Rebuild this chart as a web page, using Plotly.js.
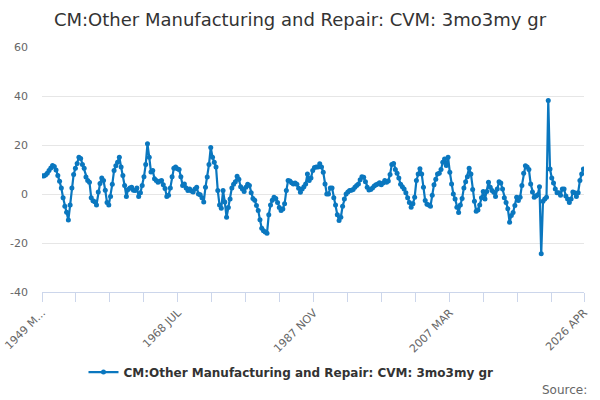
<!DOCTYPE html>
<html><head><meta charset="utf-8">
<script src="https://cdn.plot.ly/plotly-3.0.1.min.js"></script>
<style>html,body{margin:0;padding:0;background:#fff}#chart{width:600px;height:400px}</style>
</head><body><div id="chart"></div>
<script>
const chartTitle = 'CM:Other Manufacturing and Repair: CVM: 3mo3my gr';
const seriesName = 'CM:Other Manufacturing and Repair: CVM: 3mo3my gr';
const monthNames = ['JAN','FEB','MAR','APR','MAY','JUN','JUL','AUG','SEP','OCT','NOV','DEC'];
const firstYear = 1949;
const firstMonth = 2;      // MAR
const stepMonths = 3;      // one reading every three months
const lastOffset = 925;    // 2026 APR

// values, one every 3 months from 1949 MAR
const values = [
  7.5, 7.3, 7.8, 8.5, 9.6, 10.6, 11.6, 11.2, 9.8, 7.6,
  5.2, 2.5, -1.5, -5, -7.4, -10.6, -4.5, 2.5, 8, 10.5,
  12.4, 15, 14.5, 12, 10.5, 6.9, 5.5, 4.8, -1.5, -2.8,
  -3.2, -4.5, 0.8, 4.3, 6.5, 5.5, 1.5, -3.5, -4.5, -1,
  4, 9.6, 11.5, 13, 15, 11, 7.6, 3.5, -1, 1.8,
  2.5, 2.8, 1.5, 1.4, 2.5, -1, 0.5, 3.5, 7, 12,
  20.5, 15, 9, 9.6, 6.2, 5.5, 4.8, 5.2, 5.5, 3.8,
  2.2, -1, -0.5, 2.5, 7, 10.5, 11, 10.3, 10, 7,
  3.5, 4.1, 2.5, 1.4, 2, 1.2, 0.8, 2, 2.8, 0,
  -0.3, -1.5, -3.3, 2.8, 6.9, 12, 19, 15, 13, 11,
  1.4, -4.5, -5.8, 1.4, -3.3, -9.5, -5.5, -2, 2.5, 4,
  5, 7.2, 6, 3, 2, 1, 2.8, 4, 3.5, 0.5,
  -1.8, -2.5, -4.7, -6.7, -10.5, -14, -15, -15.5, -16, -8.5,
  -4.5, -2.5, -1.3, -1.8, -3.5, -5.5, -6.7, -6.1, -4, 1.4,
  5.5, 5.3, 4.6, 4.1, 4.5, 4, 2.3, 0.7, 2, 3,
  4.1, 8.2, 5.5, 6.5, 9.6, 10.8, 11, 11, 12.3, 11,
  8.9, 4.1, 0, 0, 2.5, 2.5, -1.5, -4.5, -8.5, -10.8,
  -9.5, -5, -2, 0, 0.8, 1.4, 1.5, 1.8, 2.8, 3.5,
  4.1, 5.8, 7, 6.8, 5, 2.8, 1.6, 1.8, 2.5, 3.3,
  3.8, 4.1, 4.6, 3.8, 4.5, 5.5, 4.8, 5.3, 8, 12,
  12.5, 10, 8.5, 6.5, 4, 3, 2, 0.5, -1.5, -3.5,
  -5.4, -4, -1.3, 5.5, 8.2, 10.3, 8.2, 2.8, -2.7, -4.2,
  -4.5, -5, -0.5, 3.8, 6, 8.2, 8.5, 10, 13, 14.3,
  11.6, 15, 8.9, 4.1, 0, -2, -5.4, -7.5, -4.5, -1.8,
  2.5, 5, 7, 10.5, 8.2, 1.8, -3, -7, -6.5, -4.5,
  -1.5, 1, -2, 1, 4.8, 2.8, 1.4, 0.7, -1, 2,
  5, 4.5, 2, -1.5, -3.5, -6, -11.5, -8.8, -7.5, -4.7,
  -1.3, -2.7, -1.3, 3.5, 8.5, 11.5, 11, 10, 4.1, 0.8,
  -1.3, -0.8, -0.3, 3, -24.4, -3, -2, -1.3, 38.2, 10.2,
  6.5, 4.5, 2, 0.5, 0.5, -0.5, 2, 2, -0.8, -2,
  -3.5, -2, 0.8, 0.5, -1, 0.5, 5.5, 8.2, 10.2
];

const yTickValues = [-40, -20, 0, 20, 40, 60];
const yTickLabels = ['-40', '-20', '0', '20', '40', '60'];
const xTickEvery = 58;
const xLabelled = {0: '1949 M...', 232: '1968 JUL', 464: '1987 NOV', 696: '2007 MAR', 925: '2026 APR'};
const sourceText = 'Source:';

const monthOffsets = values.map((_, i) => i * stepMonths);
const categories = monthOffsets.map(off => {
  const m = firstMonth + off;
  return (firstYear + Math.floor(m / 12)) + ' ' + monthNames[m % 12];
});
const xTickOffsets = [];
for (let o = 0; o < lastOffset; o += xTickEvery) xTickOffsets.push(o);
xTickOffsets.push(lastOffset);
const xTickText = xTickOffsets.map(o => xLabelled[o] || '');

const font = 'DejaVu Sans, Verdana, sans-serif';
const lineColor = '#0a77bf';

const trace = {
  type: 'scatter',
  mode: 'lines+markers',
  x: monthOffsets,
  y: values,
  text: categories,
  name: seriesName,
  line: {color: lineColor, width: 2.2},
  marker: {color: lineColor, size: 5},
  hovertemplate: '%{text}: %{y}<extra></extra>'
};

const layout = {
  width: 600, height: 400,
  margin: {l: 42, r: 16, t: 47, b: 108, autoexpand: false},
  paper_bgcolor: '#ffffff', plot_bgcolor: '#ffffff',
  font: {family: font, color: '#666666', size: 11},
  title: {text: chartTitle, font: {family: font, size: 18, color: '#333333'},
          x: 0.5, xref: 'container', xanchor: 'center', y: 1 - 20 / 400, yref: 'container', yanchor: 'middle'},
  showlegend: true,
  legend: {orientation: 'h', x: 0.4594, xanchor: 'center', y: -0.327, yanchor: 'middle',
           font: {family: font, size: 12, color: '#333333', weight: 'bold'}},
  xaxis: {
    range: [0, lastOffset], showgrid: false, zeroline: false,
    showline: true, linecolor: '#ccd6eb', linewidth: 1,
    ticks: 'outside', ticklen: 9, tickcolor: '#ccd6eb', tickwidth: 1,
    tickmode: 'array', tickvals: xTickOffsets, ticktext: xTickText,
    tickangle: -45, tickfont: {family: font, size: 11, color: '#666666'}
  },
  yaxis: {
    range: [-40, 60], showgrid: true, gridcolor: '#e6e6e6', gridwidth: 1,
    zeroline: false, showline: false, ticks: '',
    tickmode: 'array', tickvals: yTickValues, ticktext: yTickLabels,
    ticklabelstandoff: 13,
    tickfont: {family: font, size: 11, color: '#666666'}
  },
  annotations: [{
    text: sourceText, xref: 'paper', yref: 'paper', x: 1.0098, y: -0.4,
    xanchor: 'right', yanchor: 'middle', showarrow: false,
    font: {family: font, size: 12, color: '#666666'}
  }]
};

Plotly.newPlot('chart', [trace], layout, {staticPlot: true, displayModeBar: false});
</script>
</body></html>
